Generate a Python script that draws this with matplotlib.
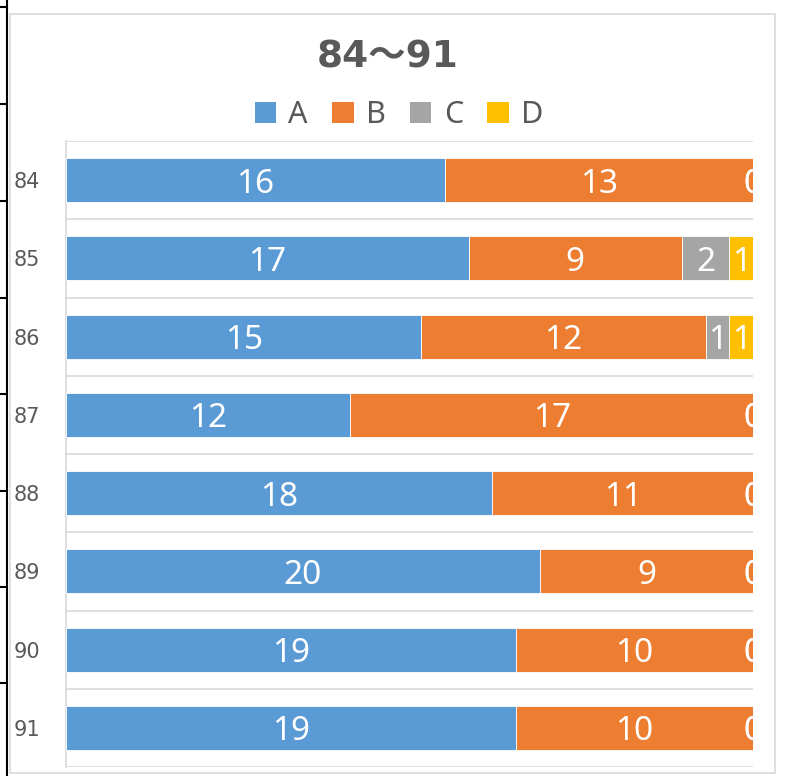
import matplotlib.pyplot as plt
import numpy as np
from matplotlib.patches import Patch, Rectangle
from matplotlib.lines import Line2D

# data
cats = ['84', '85', '86', '87', '88', '89', '90', '91']
A = [16, 17, 15, 12, 18, 20, 19, 19]
B = [13, 9, 12, 17, 11, 9, 10, 10]
C = [0, 2, 1, 0, 0, 0, 0, 0]
D = [0, 1, 1, 0, 0, 0, 0, 0]
series_names = ['A', 'B', 'C', 'D']
colors = ['#5B9BD5', '#ED7D31', '#A5A5A5', '#FFC000']

W, H = 786, 776
fig = plt.figure(figsize=(W / 100, H / 100), dpi=100)

# spreadsheet bits left of the chart
fig.add_artist(Line2D([7 / W, 7 / W], [0, 1], color='black', lw=1.5))
for yy in [7, 104, 201, 298, 394, 491, 587, 683]:
    fig.add_artist(Line2D([0, 7 / W], [1 - yy / H, 1 - yy / H], color='black', lw=1.5))

# chart border
fig.add_artist(Rectangle((10 / W, 1 - 773 / H), 765 / W, 759 / H, transform=fig.transFigure,
                         fill=False, edgecolor='#d9d9d9', lw=1.2))

ax = fig.add_axes([66 / W, 1 - 767 / H, 687 / W, 626 / H])

y = np.arange(len(cats))
left = np.zeros(len(cats))
for name, vals, col in zip(series_names, [A, B, C, D], colors):
    bars = ax.barh(y, vals, left=left, height=0.5625, color=col, edgecolor='white',
                   linewidth=0.6, label=name, zorder=3)
    txts = ax.bar_label(bars, labels=[str(v) for v in vals], label_type='center', color='white',
                        fontsize=24, family='Noto Sans', clip_on=True, zorder=4)
    for t in txts:
        t.set_va('center_baseline')
    left += np.array(vals)

ax.set_xlim(0, 29)
ax.set_ylim(len(cats) - 0.5, -0.5)
ax.set_xticks([])
ax.set_yticks(y)
ax.set_yticklabels(cats, fontsize=15, color='#595959', ha='left')
ax.tick_params(axis='y', length=0, pad=37.4)
for b in np.arange(len(cats) + 1) - 0.5:
    ax.axhline(b, color='#d9d9d9', lw=1.2, zorder=1)
for s in ['top', 'right', 'bottom']:
    ax.spines[s].set_visible(False)
ax.spines['left'].set_color('#d9d9d9')
ax.spines['left'].set_linewidth(1.2)

fig.text(388 / W, 1 - 58 / H, '84～91', ha='center', va='center', fontsize=27,
         fontweight='bold', color='#595959', family=['DejaVu Sans', 'Noto Sans CJK JP'])

handles = [Patch(facecolor=c, edgecolor='none') for c in colors]
fig.legend(handles, series_names, loc='center', bbox_to_anchor=(399 / W, 1 - 115 / H), ncol=4,
           frameon=False, handlelength=0.7, handleheight=0.7, handletextpad=0.4,
           columnspacing=0.8, prop={'family': 'Noto Sans', 'size': 22}, labelcolor='#595959')

fig.savefig('out.png', dpi=100)
